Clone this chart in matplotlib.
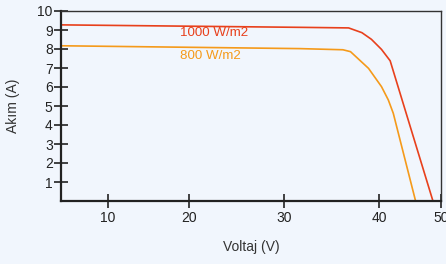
import numpy as np
import matplotlib
matplotlib.use('Agg')
import matplotlib.pyplot as plt

plt.rcParams['font.family'] = ['Liberation Sans', 'DejaVu Sans']

# I-V curves (voltage V, current A)
v_1000 = [4.2, 20.0, 31.7, 36.8, 38.2, 39.2, 40.4, 41.8, 48.7]
i_1000 = [9.27, 9.20, 9.14, 9.11, 8.86, 8.51, 7.98, 7.38, 0.0]
v_800 = [4.2, 20.0, 31.7, 36.2, 37.0, 38.9, 40.4, 41.5, 42.3, 45.9]
i_800 = [8.17, 8.09, 8.02, 7.96, 7.86, 6.98, 6.02, 5.32, 4.62, 0.0]

x_ticks = [10, 20, 30, 40, 50]
y_ticks = [1, 2, 3, 4, 5, 6, 7, 8, 9, 10]

# the original axis is not evenly spaced: tick positions in pixels
x_pts = [-100, 10, 20, 30, 40, 50, 150]
x_px = [47 - 110 * 8.1, 47, 128, 223, 318, 380, 380 + 100 * 6.2]

def fwd(x):
    return np.interp(x, x_pts, x_px)

def inv(p):
    return np.interp(p, x_px, x_pts)

bg = '#f1f6fd'
red = '#e8401c'
orange = '#f59a1a'

fig = plt.figure(figsize=(4.46, 2.64), dpi=100, facecolor=bg)
ax = fig.add_axes([61 / 446, 63 / 264, 380 / 446, 190 / 264])
ax.set_facecolor(bg)
ax.set_xscale('function', functions=(fwd, inv))

ax.plot(v_1000, i_1000, color=red, lw=1.2)
ax.plot(v_800, i_800, color=orange, lw=1.2)

ax.text(18.9, 8.82, '1000 W/m2', color=red, fontsize=9.6, va='center')
ax.text(18.9, 7.62, '800 W/m2', color=orange, fontsize=9.6, va='center')

ax.set_xlim(4.2, 50)
ax.set_ylim(0, 10)
ax.set_xticks(x_ticks)
ax.set_xticklabels([str(t) for t in x_ticks])
ax.set_yticks(y_ticks)
ax.set_yticklabels([str(t) for t in y_ticks])
ax.xaxis.set_minor_locator(matplotlib.ticker.NullLocator())

ax.tick_params(direction='inout', length=10, width=1.2, labelsize=10, colors='#222222', pad=1)
ax.tick_params(axis='x', pad=2)
for s in ['left', 'bottom']:
    ax.spines[s].set_linewidth(1.6)
    ax.spines[s].set_color('#222222')
for s in ['top', 'right']:
    ax.spines[s].set_linewidth(1.0)
    ax.spines[s].set_color('#333333')

ax.set_xlabel('Voltaj (V)', fontsize=10, color='#333333')
ax.set_ylabel('Akım (A)', fontsize=10, color='#333333')
ax.xaxis.set_label_coords(0.5, -39 / 190, transform=ax.transAxes)
ax.yaxis.set_label_coords(-41 / 380, 0.5, transform=ax.transAxes)

fig.savefig('out.png', dpi=100, facecolor=bg)
